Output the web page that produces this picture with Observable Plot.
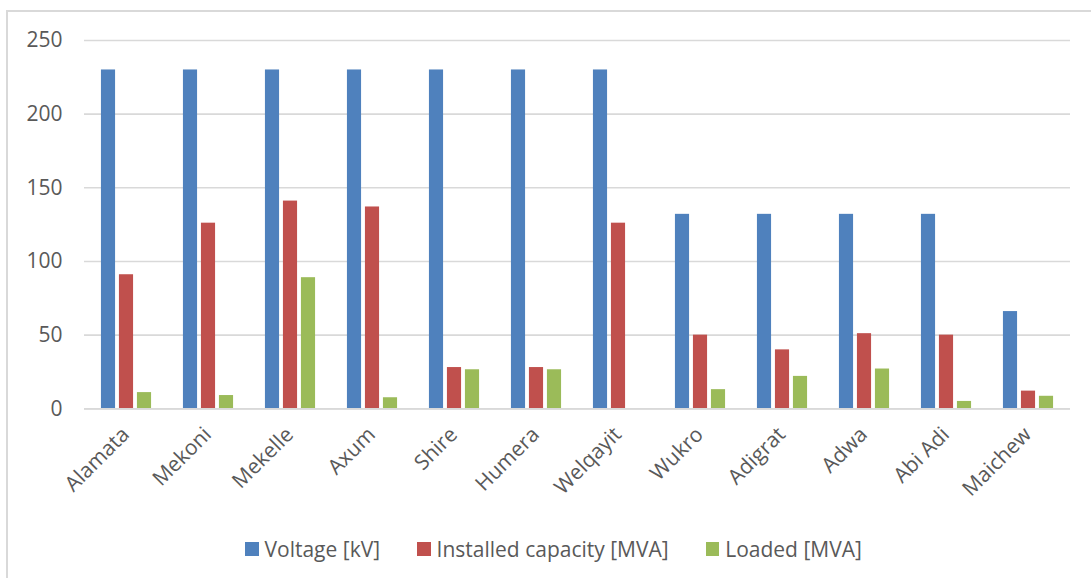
<!DOCTYPE html>
<html>
<head>
<meta charset="utf-8">
<script src="https://cdn.jsdelivr.net/npm/d3@7"></script>
<script src="https://cdn.jsdelivr.net/npm/@observablehq/plot@0.6"></script>
<style>
  html, body { margin: 0; padding: 0; background: #fff; overflow: hidden; }
  #frame {
    position: absolute; left: 6px; top: 10px; width: 1083px; height: 566px;
    border-top: 2px solid #D9D9D9; border-left: 2px solid #D9D9D9;
    font-family: "Open Sans", sans-serif;
  }
  #chart { position: absolute; left: 0; top: 0; }
  #legend {
    position: absolute; left: 237px; top: 523px; height: 28px;
    display: flex; align-items: center; font-size: 21px; color: #595959; white-space: nowrap;
  }
  .item { display: flex; align-items: center; margin-right: 37px; line-height: 28px; }
  .sw { width: 13.5px; height: 13.5px; margin-right: 6px; }
</style>
</head>
<body>
<div id="frame">
  <div id="chart"></div>
  <div id="legend"></div>
</div>
<script>
const stations = ["Alamata","Mekoni","Mekelle","Axum","Shire","Humera","Welqayit","Wukro","Adigrat","Adwa","Abi Adi","Maichew"];
const seriesNames = ["Voltage [kV]","Installed capacity [MVA]","Loaded [MVA]"];
const seriesColors = ["#4F81BD","#C0504D","#9BBB59"];
const voltage   = [230,230,230,230,230,230,230,132,132,132,132,66];
const installed = [91,126,141,137,28,28,126,50,40,51,50,12];
const loaded    = [11,9,89,7.5,26.5,26.5,0,13,22,27,5,8.5];
const yTicks = [0,50,100,150,200,250];

const valuesBySeries = [voltage, installed, loaded];
const data = [];
seriesNames.forEach((s, si) => {
  stations.forEach((st, i) => data.push({station: st, series: s, value: valuesBySeries[si][i]}));
});

const W = 1083, H = 520;
const mL = 76, mR = 21, mT = 28, mB = H - 396.3;
const band = (W - mL - mR) / stations.length;
const barW = 14.3, gap = 3.7;
const inset = (band - barW) / 2;

const marks = [
  Plot.ruleY(yTicks, {stroke: "#D9D9D9", strokeWidth: 1.6}),
];
seriesNames.forEach((s, si) => {
  marks.push(Plot.barY(data.filter(d => d.series === s), {
    x: "station", y: "value", fill: seriesColors[si],
    insetLeft: inset, insetRight: inset, dx: (si - 1) * (barW + gap)
  }));
});
marks.push(Plot.ruleY([0], {stroke: "#D9D9D9", strokeWidth: 1.8}));
marks.push(Plot.text(stations, {
  x: d => d, frameAnchor: "bottom", text: d => d, rotate: -45, textAnchor: "end",
  dx: 4, dy: 27, fill: "#595959", fontSize: 21
}));

const chart = Plot.plot({
  width: W, height: H,
  marginLeft: mL, marginRight: mR, marginTop: mT, marginBottom: mB,
  style: {fontFamily: "Open Sans, sans-serif", fontSize: "21px", color: "#595959", background: "transparent", overflow: "visible"},
  x: {type: "band", domain: stations, padding: 0, axis: null},
  y: {domain: [0, 250], ticks: yTicks, tickSize: 0, tickPadding: 22, label: null, tickFormat: d => String(d)},
  marks
});
document.getElementById("chart").appendChild(chart);

const legend = document.getElementById("legend");
seriesNames.forEach((s, i) => {
  const it = document.createElement("div"); it.className = "item";
  const sw = document.createElement("span"); sw.className = "sw"; sw.style.background = seriesColors[i];
  const t = document.createElement("span"); t.textContent = s;
  it.appendChild(sw); it.appendChild(t); legend.appendChild(it);
});
</script>
</body>
</html>
